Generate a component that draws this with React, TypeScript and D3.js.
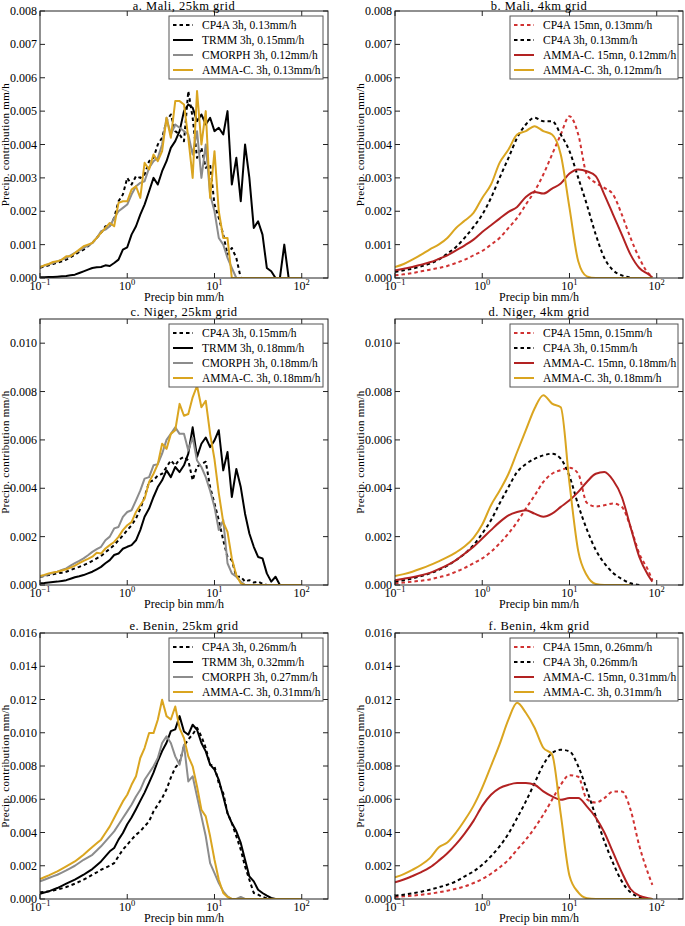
import React from 'react';
import * as d3 from 'd3';

// precip bins (mm/h)
const bins25 = [0.1, 0.112, 0.126, 0.141, 0.158, 0.178, 0.2, 0.224, 0.251, 0.282, 0.316, 0.355, 0.398, 0.447, 0.501, 0.562, 0.631, 0.708, 0.794, 0.891, 1, 1.12, 1.26, 1.41, 1.58, 1.78, 2, 2.24, 2.51, 2.82, 3.16, 3.55, 3.98, 4.47, 5.01, 5.62, 6.31, 7.08, 7.94, 8.91, 10, 11.2, 12.6, 14.1, 15.8, 17.8, 20, 22.4, 25.1, 28.2, 31.6, 35.5, 39.8, 44.7, 50.1, 56.2, 63.1, 70.8, 79.4, 89.1, 100];
const bins4 = [0.1, 0.126, 0.158, 0.2, 0.251, 0.316, 0.398, 0.501, 0.631, 0.794, 1, 1.26, 1.58, 2, 2.51, 3.16, 3.98, 5.01, 6.31, 7.94, 10, 12.6, 15.8, 20, 25.1, 31.6, 39.8, 50.1, 63.1, 79.4, 89.1];

// precip contribution, in 10^-3 mm/h
const maliCp4a3h = [0.31, 0.34, 0.38, 0.42, 0.46, 0.50, 0.55, 0.62, 0.70, 0.78, 0.85, 0.95, 1.05, 1.2, 1.35, 1.55, 1.55, 1.8, 2.3, 2.5, 3.0, 2.8, 3.05, 3.0, 3.1, 3.5, 3.6, 4.0, 4.2, 4.7, 4.9, 4.4, 4.3, 4.1, 5.6, 4.8, 3.6, 3.9, 3.3, 3.4, 2.2, 1.8, 1.3, 0.7, 0.9, 0.6, 0];
const maliTrmm3h = [0.02, 0.02, 0.03, 0.03, 0.04, 0.05, 0.06, 0.08, 0.10, 0.15, 0.20, 0.25, 0.30, 0.32, 0.33, 0.38, 0.36, 0.45, 0.55, 0.85, 0.92, 1.3, 1.55, 1.9, 2.2, 2.6, 3.0, 2.8, 3.2, 3.5, 3.9, 4.1, 4.4, 5.0, 5.2, 5.1, 4.7, 4.9, 4.6, 4.8, 4.4, 4.5, 4.3, 5.0, 2.8, 3.6, 2.3, 4.0, 3.0, 1.5, 1.7, 1.3, 0.3, 0.2, 0, 0, 1.0, 0];
const maliCmorph3h = [0.33, 0.37, 0.41, 0.45, 0.5, 0.55, 0.6, 0.68, 0.75, 0.82, 0.9, 0.97, 1.05, 1.2, 1.4, 1.45, 1.55, 1.8, 2.0, 2.1, 2.2, 2.5, 2.75, 2.85, 2.9, 3.3, 3.5, 3.6, 4.0, 4.8, 4.3, 4.6, 4.5, 4.4, 4.3, 3.7, 4.4, 3.0, 4.0, 2.5, 2.0, 1.2, 1.0, 0.6, 0.3, 0];
const maliAmma3h = [0.33, 0.38, 0.42, 0.48, 0.50, 0.55, 0.65, 0.65, 0.75, 0.85, 0.95, 1.0, 1.05, 1.2, 1.35, 1.5, 1.65, 1.55, 2.25, 2.3, 2.3, 2.65, 2.75, 2.4, 3.45, 3.25, 3.7, 3.5, 3.8, 4.8, 4.2, 5.3, 5.3, 5.2, 4.2, 3.0, 5.6, 4.0, 5.0, 2.4, 3.8, 2.0, 1.2, 1.2, 0, 0, 0, 0, 0, 0, 0, 0, 0, 0, 0, 0, 0, 0, 0, 0, 0];

const maliCp4a15mn4 = [0.08, 0.11, 0.15, 0.2, 0.25, 0.3, 0.36, 0.45, 0.55, 0.68, 0.81, 1.0, 1.2, 1.5, 1.8, 2.2, 2.6, 3.1, 3.7, 4.3, 4.85, 4.3, 3.1, 2.85, 2.7, 2.5, 1.9, 1.2, 0.6, 0.15, 0.05];
const maliCp4a3h4 = [0.18, 0.23, 0.28, 0.35, 0.43, 0.55, 0.73, 0.93, 1.21, 1.53, 1.9, 2.4, 3.0, 3.6, 4.2, 4.6, 4.8, 4.7, 4.7, 4.3, 3.8, 3.0, 2.2, 1.3, 0.6, 0.23, 0.08, 0.01];
const maliAmma15mn4 = [0.23, 0.28, 0.33, 0.40, 0.47, 0.57, 0.68, 0.83, 0.98, 1.15, 1.38, 1.58, 1.78, 1.98, 2.13, 2.43, 2.58, 2.53, 2.68, 2.83, 3.13, 3.25, 3.2, 3.05, 2.5, 1.9, 1.3, 0.7, 0.3, 0.12, 0.02];
const maliAmma3h4 = [0.33, 0.42, 0.55, 0.7, 0.86, 1.0, 1.2, 1.5, 1.72, 1.95, 2.4, 2.8, 3.45, 3.85, 4.3, 4.4, 4.55, 4.4, 4.3, 3.7, 2.1, 0.5, 0.05, 0, 0, 0, 0, 0, 0, 0, 0];

const nigerCp4a3h = [0.34, 0.37, 0.41, 0.44, 0.48, 0.51, 0.55, 0.62, 0.69, 0.75, 0.82, 0.9, 1.0, 1.1, 1.2, 1.35, 1.5, 1.65, 1.85, 2.05, 2.27, 2.47, 2.75, 3.15, 3.64, 4.26, 4.33, 4.53, 4.6, 4.88, 5.15, 4.95, 5.2, 5.3, 5.15, 4.33, 4.9, 5.0, 5.1, 4.05, 3.37, 2.68, 1.85, 1.16, 1.03, 0.34, 0.34, 0.14, 0.2, 0.1, 0.14, 0.05, 0];
const nigerTrmm3h = [0.07, 0.08, 0.1, 0.12, 0.14, 0.17, 0.2, 0.26, 0.32, 0.36, 0.41, 0.48, 0.55, 0.65, 0.75, 0.9, 1.03, 1.24, 1.3, 1.5, 1.58, 1.65, 1.85, 2.27, 2.82, 3.16, 3.64, 4.05, 4.33, 4.74, 4.46, 4.88, 4.67, 4.95, 5.43, 6.52, 5.3, 5.84, 6.1, 5.7, 5.98, 6.4, 4.74, 5.5, 3.64, 4.8, 4.05, 2.95, 2.13, 1.58, 1.16, 1.1, 0.48, 0.14, 0.34, 0];
const nigerCmorph3h = [0.34, 0.39, 0.44, 0.5, 0.55, 0.62, 0.69, 0.8, 0.9, 1.0, 1.1, 1.23, 1.37, 1.48, 1.58, 1.85, 2.0, 2.34, 2.4, 2.82, 3.02, 3.09, 3.5, 3.9, 4.4, 4.46, 4.95, 5.0, 5.43, 6.0, 6.25, 6.52, 6.25, 6.25, 5.56, 6.1, 5.15, 4.88, 4.46, 3.9, 3.23, 2.27, 2.68, 0.9, 0.48, 0.34, 0.14, 0];
const nigerAmma3h = [0.37, 0.42, 0.48, 0.52, 0.55, 0.6, 0.65, 0.72, 0.8, 0.9, 1.0, 1.08, 1.17, 1.33, 1.3, 1.51, 1.65, 1.78, 1.99, 2.27, 2.47, 2.6, 3.02, 3.3, 3.57, 4.26, 4.6, 5.0, 5.84, 5.63, 6.25, 6.4, 7.49, 7.0, 7.07, 7.76, 8.24, 7.35, 7.62, 6.25, 5.2, 3.8, 2.6, 2.2, 1.1, 0.4, 0.07, 0, 0, 0, 0, 0, 0, 0, 0, 0, 0, 0, 0, 0, 0];

const nigerCp4a15mn4 = [0.07, 0.1, 0.14, 0.18, 0.23, 0.32, 0.41, 0.55, 0.71, 0.9, 1.1, 1.37, 1.72, 2.13, 2.6, 3.16, 3.7, 4.26, 4.6, 4.75, 4.85, 4.6, 3.4, 3.25, 3.3, 3.37, 3.23, 2.4, 1.3, 0.62, 0.2];
const nigerCp4a3h4 = [0.14, 0.2, 0.27, 0.37, 0.48, 0.62, 0.8, 1.03, 1.3, 1.65, 2.13, 2.68, 3.37, 4.05, 4.67, 5.0, 5.22, 5.36, 5.43, 5.22, 4.5, 3.3, 2.3, 1.45, 0.9, 0.5, 0.25, 0.07, 0];
const nigerAmma15mn4 = [0.2, 0.26, 0.32, 0.4, 0.5, 0.65, 0.82, 1.03, 1.3, 1.58, 1.92, 2.27, 2.6, 2.88, 3.02, 3.09, 2.95, 2.82, 2.95, 3.23, 3.5, 3.85, 4.26, 4.6, 4.67, 4.33, 3.64, 2.4, 1.16, 0.41, 0.14];
const nigerAmma3h4 = [0.37, 0.45, 0.55, 0.68, 0.82, 0.98, 1.15, 1.35, 1.6, 1.95, 2.5, 3.3, 3.9, 4.6, 5.5, 6.4, 7.3, 7.85, 7.5, 7.35, 4.2, 1.4, 0.4, 0.04, 0, 0, 0, 0];

const beninCp4a3h = [0.4, 0.43, 0.46, 0.51, 0.56, 0.64, 0.72, 0.82, 0.92, 1.04, 1.16, 1.3, 1.46, 1.6, 1.76, 1.88, 2.0, 2.16, 2.57, 2.97, 3.27, 3.57, 3.87, 4.07, 4.37, 4.67, 5.27, 5.67, 6.07, 6.6, 7.3, 7.9, 8.2, 9.2, 9.6, 9.9, 10.3, 9.78, 9.08, 8.08, 7.98, 6.97, 6.37, 5.17, 4.57, 3.77, 2.97, 1.96, 1.16, 0.36, 0.26, 0.12, 0.04, 0];
const beninTrmm3h = [0.32, 0.39, 0.46, 0.56, 0.66, 0.79, 0.92, 1.04, 1.16, 1.31, 1.46, 1.63, 1.8, 2.03, 2.26, 2.56, 2.87, 3.07, 3.57, 3.97, 4.5, 4.9, 5.4, 5.9, 6.4, 7.0, 7.6, 8.3, 8.9, 9.4, 10.1, 10.2, 11.0, 10.08, 9.88, 10.48, 10.18, 9.38, 8.88, 8.08, 7.78, 7.17, 6.17, 5.17, 4.57, 4.07, 3.37, 2.36, 1.36, 1.06, 0.56, 0.36, 0.2, 0.06, 0];
const beninCmorph3h = [1.06, 1.16, 1.26, 1.36, 1.46, 1.59, 1.72, 1.86, 2.0, 2.18, 2.36, 2.51, 2.66, 2.92, 3.17, 3.47, 3.77, 4.07, 4.47, 4.87, 5.27, 5.67, 6.17, 6.57, 7.17, 7.58, 7.98, 8.48, 9.38, 9.78, 9.38, 8.58, 8.08, 9.28, 7.07, 7.38, 6.17, 4.97, 3.77, 2.16, 1.56, 0.96, 0.46, 0.16, 0, 0, 0.12, 0];
const beninAmma3h = [1.2, 1.31, 1.42, 1.54, 1.66, 1.81, 1.96, 2.11, 2.26, 2.46, 2.66, 2.9, 3.13, 3.35, 3.57, 3.97, 4.37, 4.87, 5.37, 5.87, 6.27, 6.87, 7.38, 8.48, 9.08, 9.98, 9.98, 10.78, 11.98, 11.0, 10.8, 11.58, 10.28, 9.68, 8.58, 7.98, 6.77, 5.37, 4.97, 3.77, 2.36, 1.16, 0.36, 0.12, 0, 0, 0, 0, 0, 0, 0, 0, 0, 0, 0, 0, 0, 0, 0, 0, 0];

const beninCp4a15mn4 = [0.12, 0.16, 0.2, 0.26, 0.32, 0.4, 0.5, 0.62, 0.76, 0.96, 1.2, 1.52, 1.9, 2.36, 2.97, 3.57, 4.27, 5.07, 5.97, 6.87, 7.45, 7.35, 6.0, 5.8, 6.07, 6.47, 6.47, 5.37, 3.2, 1.56, 0.85];
const beninCp4a3h4 = [0.2, 0.26, 0.34, 0.44, 0.56, 0.7, 0.86, 1.06, 1.36, 1.66, 2.06, 2.57, 3.17, 3.93, 4.87, 5.87, 6.97, 8.08, 8.78, 8.98, 8.88, 7.98, 6.57, 4.97, 3.47, 2.16, 1.06, 0.4, 0.12, 0];
const beninAmma15mn4 = [1.0, 1.17, 1.38, 1.62, 1.9, 2.3, 2.75, 3.3, 3.95, 4.7, 5.6, 6.27, 6.67, 6.87, 6.97, 6.97, 6.87, 6.47, 6.17, 5.97, 6.07, 6.07, 5.57, 4.9, 4.0, 2.8, 1.6, 0.6, 0.2, 0.05, 0];
const beninAmma3h4 = [1.3, 1.5, 1.75, 2.06, 2.46, 3.1, 3.4, 4.0, 4.75, 5.6, 6.7, 8.0, 9.3, 10.8, 11.8, 11.2, 10.3, 9.1, 8.7, 5.1, 1.4, 0.4, 0.05, 0, 0, 0, 0, 0, 0, 0, 0];

// y ticks in 10^-3 mm/h
const yTicks8 = [0, 1, 2, 3, 4, 5, 6, 7, 8];
const yTicks11 = [0, 2, 4, 6, 8, 10];
const yTicks16 = [0, 2, 4, 6, 8, 10, 12, 14, 16];
const xTicks = [0.1, 1, 10, 100];
const xTickExp = ['\u22121', '0', '1', '2'];

const BLACK = '#000000';
const GREY = '#8c8c8c';
const GOLD = '#daa520';
const RED = '#b22222';
const RED_DOT = '#d03232';

type Series = { label: string; bins: number[]; values: number[]; color: string; dotted?: boolean };
type PanelCfg = { title: string; col: number; row: number; yMax: number; yTicks: number[]; smooth: boolean; series: Series[] };

const panels: PanelCfg[] = [
  {
    title: 'a. Mali, 25km grid', col: 0, row: 0, yMax: 8, yTicks: yTicks8, smooth: false,
    series: [
      { label: 'CP4A 3h, 0.13mm/h', bins: bins25, values: maliCp4a3h, color: BLACK, dotted: true },
      { label: 'TRMM 3h, 0.15mm/h', bins: bins25, values: maliTrmm3h, color: BLACK },
      { label: 'CMORPH 3h, 0.12mm/h', bins: bins25, values: maliCmorph3h, color: GREY },
      { label: 'AMMA-C. 3h, 0.13mm/h', bins: bins25, values: maliAmma3h, color: GOLD },
    ],
  },
  {
    title: 'b. Mali, 4km grid', col: 1, row: 0, yMax: 8, yTicks: yTicks8, smooth: true,
    series: [
      { label: 'CP4A 15mn, 0.13mm/h', bins: bins4, values: maliCp4a15mn4, color: RED_DOT, dotted: true },
      { label: 'CP4A 3h, 0.13mm/h', bins: bins4, values: maliCp4a3h4, color: BLACK, dotted: true },
      { label: 'AMMA-C. 15mn, 0.12mm/h', bins: bins4, values: maliAmma15mn4, color: RED },
      { label: 'AMMA-C. 3h, 0.12mm/h', bins: bins4, values: maliAmma3h4, color: GOLD },
    ],
  },
  {
    title: 'c. Niger, 25km grid', col: 0, row: 1, yMax: 11, yTicks: yTicks11, smooth: false,
    series: [
      { label: 'CP4A 3h, 0.15mm/h', bins: bins25, values: nigerCp4a3h, color: BLACK, dotted: true },
      { label: 'TRMM 3h, 0.18mm/h', bins: bins25, values: nigerTrmm3h, color: BLACK },
      { label: 'CMORPH 3h, 0.18mm/h', bins: bins25, values: nigerCmorph3h, color: GREY },
      { label: 'AMMA-C. 3h, 0.18mm/h', bins: bins25, values: nigerAmma3h, color: GOLD },
    ],
  },
  {
    title: 'd. Niger, 4km grid', col: 1, row: 1, yMax: 11, yTicks: yTicks11, smooth: true,
    series: [
      { label: 'CP4A 15mn, 0.15mm/h', bins: bins4, values: nigerCp4a15mn4, color: RED_DOT, dotted: true },
      { label: 'CP4A 3h, 0.15mm/h', bins: bins4, values: nigerCp4a3h4, color: BLACK, dotted: true },
      { label: 'AMMA-C. 15mn, 0.18mm/h', bins: bins4, values: nigerAmma15mn4, color: RED },
      { label: 'AMMA-C. 3h, 0.18mm/h', bins: bins4, values: nigerAmma3h4, color: GOLD },
    ],
  },
  {
    title: 'e. Benin, 25km grid', col: 0, row: 2, yMax: 16, yTicks: yTicks16, smooth: false,
    series: [
      { label: 'CP4A 3h, 0.26mm/h', bins: bins25, values: beninCp4a3h, color: BLACK, dotted: true },
      { label: 'TRMM 3h, 0.32mm/h', bins: bins25, values: beninTrmm3h, color: BLACK },
      { label: 'CMORPH 3h, 0.27mm/h', bins: bins25, values: beninCmorph3h, color: GREY },
      { label: 'AMMA-C. 3h, 0.31mm/h', bins: bins25, values: beninAmma3h, color: GOLD },
    ],
  },
  {
    title: 'f. Benin, 4km grid', col: 1, row: 2, yMax: 16, yTicks: yTicks16, smooth: true,
    series: [
      { label: 'CP4A 15mn, 0.26mm/h', bins: bins4, values: beninCp4a15mn4, color: RED_DOT, dotted: true },
      { label: 'CP4A 3h, 0.26mm/h', bins: bins4, values: beninCp4a3h4, color: BLACK, dotted: true },
      { label: 'AMMA-C. 15mn, 0.31mm/h', bins: bins4, values: beninAmma15mn4, color: RED },
      { label: 'AMMA-C. 3h, 0.31mm/h', bins: bins4, values: beninAmma3h4, color: GOLD },
    ],
  },
];

const W = 685;
const H = 926;
const colX = [40, 395];
const rowY = [[11, 278], [319, 585], [633, 899]];
const plotW = 288;
const FONT = "'Liberation Serif', 'DejaVu Serif', serif";
const DASH = '3.5,3';

function Panel({ cfg, idx }: { cfg: PanelCfg; idx: number }) {
  const x0 = colX[cfg.col];
  const x1 = x0 + plotW;
  const [y0, y1] = rowY[cfg.row];
  const x = d3.scaleLog().domain([0.1, 200]).range([x0, x1]);
  const y = d3.scaleLinear().domain([0, cfg.yMax]).range([y1, y0]);
  const clipId = `clip-${idx}`;

  const legW = cfg.col === 0 ? 154 : 168;
  const legX = x1 - 5 - legW;
  const legY = y0 + 5;
  const titleY = cfg.row === 0 ? 10 : y0 - 3;

  return (
    <g>
      <defs>
        <clipPath id={clipId}>
          <rect x={x0} y={y0} width={x1 - x0} height={y1 - y0} />
        </clipPath>
      </defs>
      <g clipPath={`url(#${clipId})`}>
        {cfg.series.map((s, i) => {
          const line = d3.line<number>()
            .x((_, j) => x(s.bins[j]))
            .y(d => y(d))
            .curve(cfg.smooth ? d3.curveMonotoneX : d3.curveLinear);
          return (
            <path key={i} d={line(s.values) || ''} fill="none" stroke={s.color}
              strokeWidth={2} strokeDasharray={s.dotted ? DASH : undefined} strokeLinejoin="round" />
          );
        })}
      </g>
      {/* frame */}
      <rect x={x0} y={y0} width={x1 - x0} height={y1 - y0} fill="none" stroke="#222" strokeWidth={1} />
      {/* y ticks */}
      {cfg.yTicks.map(t => (
        <g key={`y${t}`}>
          <line x1={x0} x2={x0 + 5} y1={y(t)} y2={y(t)} stroke="#222" />
          <line x1={x1} x2={x1 - 5} y1={y(t)} y2={y(t)} stroke="#222" />
          <text x={x0 - 3} y={y(t) + 4} textAnchor="end" fontSize={12}>{(t * 1e-3).toFixed(3)}</text>
        </g>
      ))}
      {/* x ticks */}
      {xTicks.map((t, i) => (
        <g key={`x${t}`}>
          <line x1={x(t)} x2={x(t)} y1={y1} y2={y1 - 5} stroke="#222" />
          <line x1={x(t)} x2={x(t)} y1={y0} y2={y0 + 5} stroke="#222" />
          <text x={x(t)} y={y1 + 12} textAnchor="middle" fontSize={12}>
            10<tspan dy={-5} fontSize={8.5}>{xTickExp[i]}</tspan>
          </text>
        </g>
      ))}
      <text x={(x0 + x1) / 2} y={titleY} textAnchor="middle" fontSize={12.5} letterSpacing={0.5}>{cfg.title}</text>
      <text x={(x0 + x1) / 2} y={y1 + 23} textAnchor="middle" fontSize={12}>Precip bin mm/h</text>
      <text transform={`translate(${x0 - 31},${(y0 + y1) / 2}) rotate(-90)`} textAnchor="middle"
        fontSize={11} letterSpacing={0.3}>
        Precip. contribution mm/h
      </text>
      {/* legend */}
      <rect x={legX} y={legY} width={legW} height={63} fill="#fff" stroke="#555" strokeWidth={1} />
      {cfg.series.map((s, i) => {
        const ly = legY + 9 + 15 * i;
        return (
          <g key={`l${i}`}>
            <line x1={legX + 4} x2={legX + 24} y1={ly} y2={ly} stroke={s.color} strokeWidth={2}
              strokeDasharray={s.dotted ? DASH : undefined} />
            <text x={legX + 33} y={ly + 4} fontSize={11.5}>{s.label}</text>
          </g>
        );
      })}
    </g>
  );
}

export default function App() {
  return (
    <svg width={W} height={H} style={{ position: 'absolute', left: 0, top: 0, background: '#fff' }}
      fontFamily={FONT} fill="#000">
      {panels.map((p, i) => <Panel key={i} cfg={p} idx={i} />)}
    </svg>
  );
}
